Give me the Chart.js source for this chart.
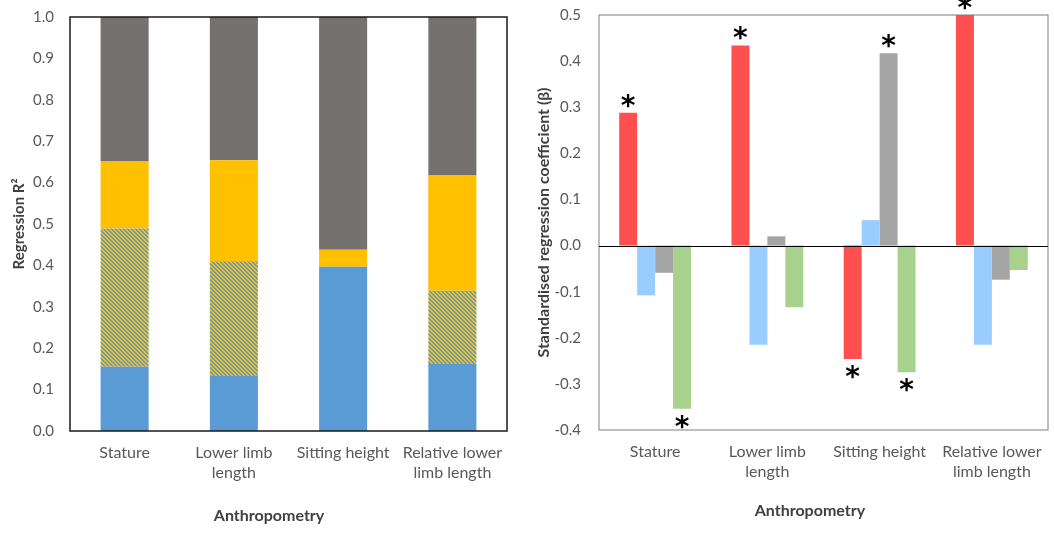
<!DOCTYPE html>
<html>
<head>
<meta charset="utf-8">
<script src="https://cdn.jsdelivr.net/npm/chart.js@4.4.1/dist/chart.umd.min.js"></script>
<style>
  body { margin: 0; background: #fff; }
  .box { position: absolute; top: 0; }
</style>
</head>
<body>
<div class="box" style="left:0"><canvas id="leftChart" width="530" height="550"></canvas></div>
<div class="box" style="left:530px"><canvas id="rightChart" width="524" height="550"></canvas></div>
<script>
// categories
let categorie = [['Stature'], ['Lower limb', 'length'], ['Sitting height'], ['Relative lower', 'limb length']];

// left panel: stacked R2 components
let r2Blu = [0.155, 0.133, 0.397, 0.162];
let r2Tratteggio = [0.334, 0.277, 0.0, 0.177];
let r2Giallo = [0.162, 0.244, 0.041, 0.278];
let r2Grigio = [0.349, 0.346, 0.562, 0.383];

// right panel: standardised beta
let betaRosso = [0.288, 0.434, -0.246, 0.500];
let betaAzzurro = [-0.108, -0.215, 0.055, -0.215];
let betaGrigio = [-0.059, 0.020, 0.417, -0.074];
let betaVerde = [-0.354, -0.134, -0.275, -0.053];

// asterisks (significant)
let sigRosso = [1, 1, 1, 1];
let sigAzzurro = [0, 0, 0, 0];
let sigGrigio = [0, 0, 1, 0];
let sigVerde = [1, 0, 1, 0];

let fontFam = 'Lato, "Open Sans", sans-serif';
let tickColor = '#595959';

/********************* hatched pattern ***********************/
function makeHatch() {
  let c = document.createElement('canvas');
  c.width = 4; c.height = 4;
  let g = c.getContext('2d');
  g.fillStyle = '#5B9BD5';
  g.fillRect(0, 0, 4, 4);
  g.fillStyle = '#FFC000';
  for (let y = 0; y < 4; y++) {
    g.fillRect(y % 4, y, 1, 1);
    g.fillRect((y + 1) % 4, y, 1, 1);
  }
  return g.createPattern(c, 'repeat');
}
let hatch = makeHatch();

/********************* frame plugin ***********************/
function framePlugin(color, width, zeroLine) {
  return {
    id: 'frame',
    afterDatasetsDraw(chart) {
      let a = chart.chartArea;
      let ctx = chart.ctx;
      ctx.save();
      ctx.strokeStyle = color;
      ctx.lineWidth = width;
      ctx.strokeRect(a.left, a.top, a.right - a.left, a.bottom - a.top);
      if (zeroLine) {
        let y0 = Math.round(chart.scales.y.getPixelForValue(0)) + 0.5;
        ctx.strokeStyle = '#000';
        ctx.lineWidth = 1;
        ctx.beginPath();
        ctx.moveTo(a.left, y0);
        ctx.lineTo(a.right, y0);
        ctx.stroke();
      }
      ctx.restore();
    }
  };
}

let asteriskPlugin = {
  id: 'asterisks',
  afterDraw(chart) {
    let ctx = chart.ctx;
    ctx.save();
    ctx.fillStyle = '#000';
    ctx.font = 'bold 28px "DejaVu Sans", sans-serif';
    ctx.textAlign = 'center';
    ctx.textBaseline = 'alphabetic';
    let m = ctx.measureText('*');
    let mid = (m.actualBoundingBoxAscent - m.actualBoundingBoxDescent) / 2;
    chart.data.datasets.forEach(function (ds, i) {
      let meta = chart.getDatasetMeta(i);
      meta.data.forEach(function (bar, j) {
        if (!ds.sig[j]) return;
        let v = ds.data[j];
        let cy = v >= 0 ? bar.y - 12 : bar.y + 13;
        ctx.fillText('*', bar.x, cy + mid);
      });
    });
    ctx.restore();
  }
};

let xTicks = { color: tickColor, font: { family: fontFam, size: 16, lineHeight: 1.25 }, padding: 4, maxRotation: 0 };
let yTicksFmt = function (v) { return (Math.round(v * 10) / 10).toFixed(1); };

/********************* left chart ***********************/
new Chart(document.getElementById('leftChart'), {
  type: 'bar',
  data: {
    labels: categorie,
    datasets: [
      { data: r2Blu, backgroundColor: '#5B9BD5' },
      { data: r2Tratteggio, backgroundColor: hatch },
      { data: r2Giallo, backgroundColor: '#FFC000' },
      { data: r2Grigio, backgroundColor: '#767171' }
    ]
  },
  options: {
    responsive: false,
    animation: false,
    barPercentage: 0.44,
    categoryPercentage: 1,
    layout: { padding: { top: 11, right: 23, left: 0, bottom: 0 } },
    plugins: { legend: { display: false }, tooltip: { enabled: false } },
    scales: {
      x: {
        stacked: true,
        grid: { display: false },
        border: { display: false },
        ticks: xTicks,
        // trailing spaces nudge the title a bit left, as in the original
        title: { display: true, text: 'Anthropometry          ', color: '#404040', font: { family: fontFam, size: 16, weight: 'bold' }, padding: { top: 0, bottom: 25 } },
        afterFit: function (s) { s.height = 119; }
      },
      y: {
        stacked: true,
        min: 0,
        max: 1,
        grid: { display: false },
        border: { display: false },
        ticks: { stepSize: 0.1, color: tickColor, padding: 8, font: { family: fontFam, size: 15 }, callback: yTicksFmt },
        title: { display: true, text: 'Regression R²', color: '#404040', font: { family: fontFam, size: 15, weight: 'bold' }, padding: { top: 10, bottom: 0 } },
        afterFit: function (s) { s.width = 70; }
      }
    }
  },
  plugins: [framePlugin('#1a1a1a', 1.5, false)]
});

/********************* right chart ***********************/
new Chart(document.getElementById('rightChart'), {
  type: 'bar',
  data: {
    labels: categorie,
    datasets: [
      { data: betaRosso, sig: sigRosso, backgroundColor: '#FF4F4F' },
      { data: betaAzzurro, sig: sigAzzurro, backgroundColor: '#99CCFF' },
      { data: betaGrigio, sig: sigGrigio, backgroundColor: '#A5A5A5' },
      { data: betaVerde, sig: sigVerde, backgroundColor: '#A9D18E' }
    ]
  },
  options: {
    responsive: false,
    animation: false,
    barPercentage: 1,
    categoryPercentage: 0.64,
    layout: { padding: { top: 15, right: 6, left: 0, bottom: 0 } },
    plugins: { legend: { display: false }, tooltip: { enabled: false } },
    scales: {
      x: {
        grid: { display: false },
        border: { display: false },
        ticks: xTicks,
        title: { display: true, text: 'Anthropometry       ', color: '#404040', font: { family: fontFam, size: 16, weight: 'bold' }, padding: { top: 0, bottom: 30 } },
        afterFit: function (s) { s.height = 120; }
      },
      y: {
        min: -0.4,
        max: 0.5,
        grid: { display: false },
        border: { display: false },
        ticks: { stepSize: 0.1, color: tickColor, padding: 10, font: { family: fontFam, size: 15 }, callback: yTicksFmt },
        title: { display: true, text: 'Standardised regression coefficient (β)', color: '#404040', font: { family: fontFam, size: 16, weight: 'bold' }, padding: { top: 4, bottom: 0 } },
        afterFit: function (s) { s.width = 69; s.paddingTop = 0; s.paddingBottom = 0; }
      }
    }
  },
  plugins: [framePlugin('#7F7F7F', 1, true), asteriskPlugin]
});
</script>
</body>
</html>
